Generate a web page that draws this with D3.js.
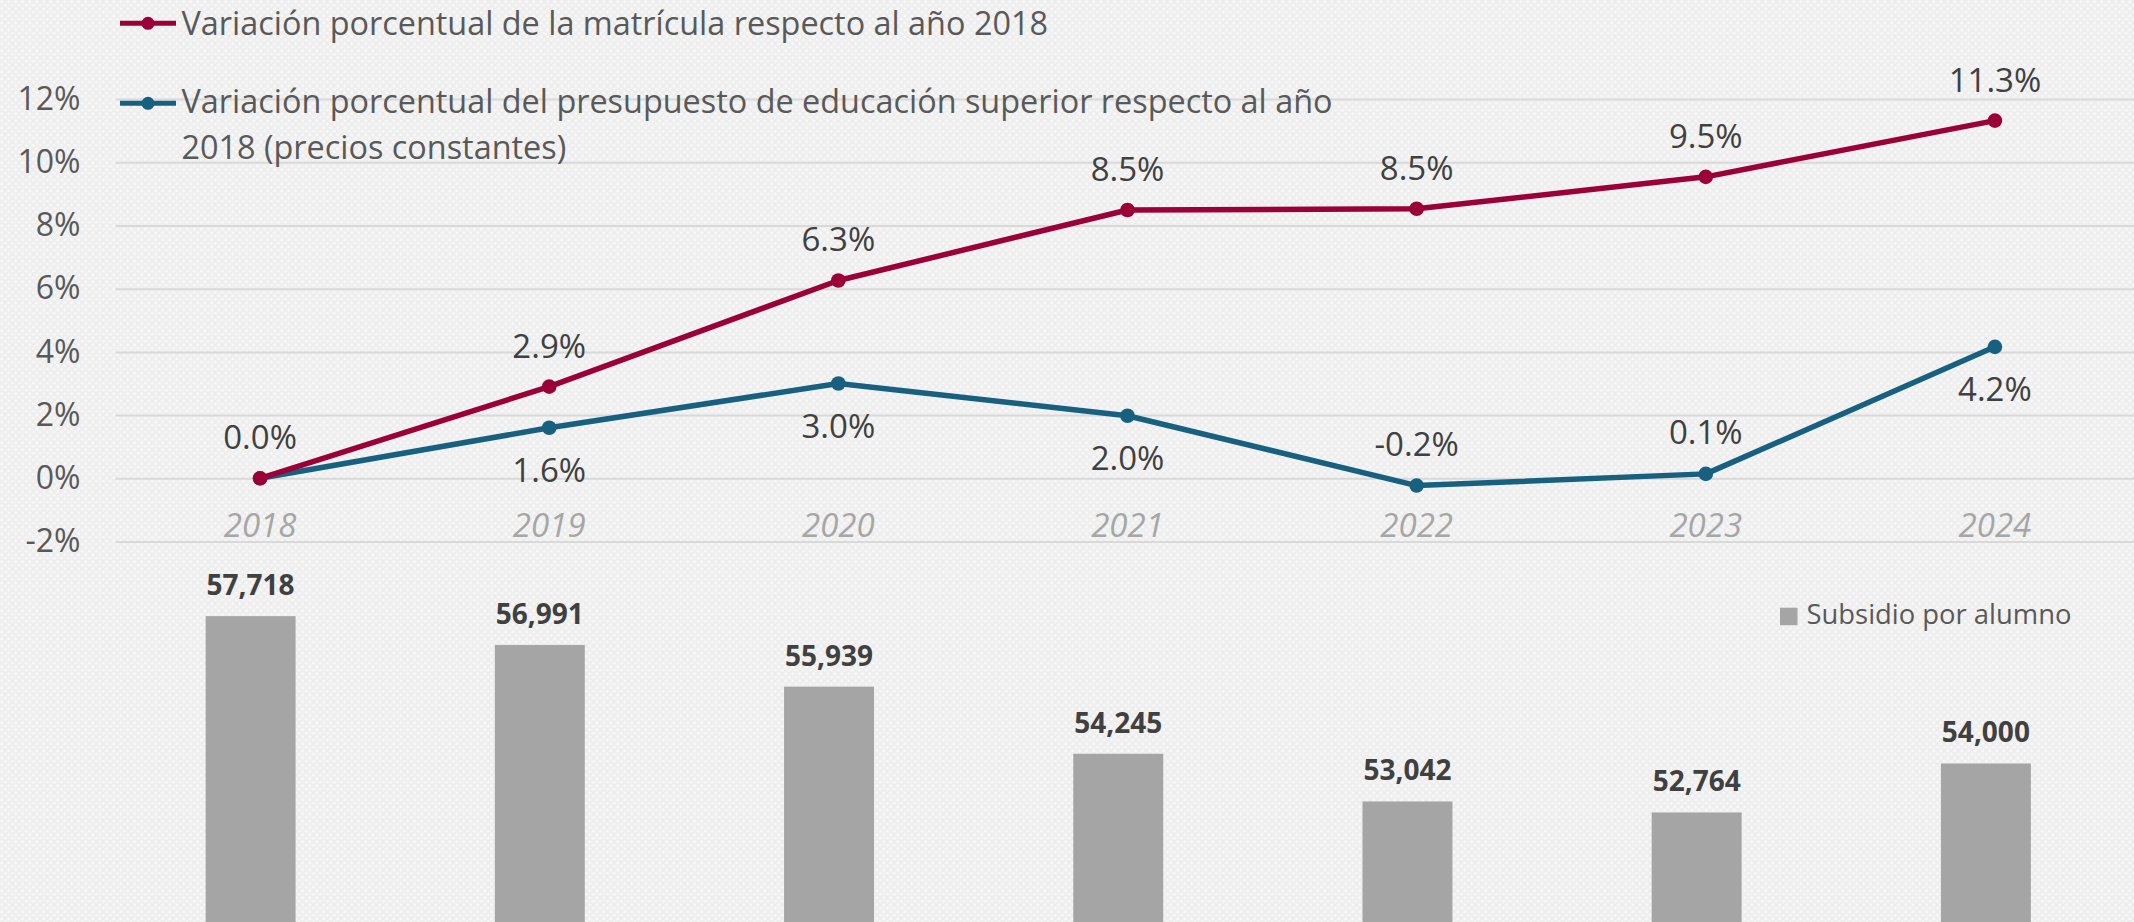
<!DOCTYPE html>
<html>
<head>
<meta charset="utf-8">
<script src="https://d3js.org/d3.v7.min.js"></script>
<style>
  html, body { margin: 0; padding: 0; background: #f2f2f2; }
  svg { display: block; font-family: "Open Sans", "Noto Sans", sans-serif; }
</style>
</head>
<body>
<div id="chart"></div>
<script>
var years = ["2018", "2019", "2020", "2021", "2022", "2023", "2024"];
// variación % de la matrícula respecto a 2018
var matricula = [0.0, 2.90, 6.26, 8.49, 8.53, 9.54, 11.32];
// variación % del presupuesto (precios constantes) respecto a 2018
var presupuesto = [0.0, 1.60, 3.00, 1.98, -0.23, 0.14, 4.16];
// subsidio por alumno
var subsidio = [57718, 56991, 55939, 54245, 53042, 52764, 54000];
var pctTicks = [-2, 0, 2, 4, 6, 8, 10, 12];

var serieMatricula = "Variación porcentual de la matrícula respecto al año 2018";
var seriePresupuesto = ["Variación porcentual del presupuesto de educación superior respecto al año", "2018 (precios constantes)"];
var serieSubsidio = "Subsidio por alumno";

var width = 2134, height = 922;
var red = "#9b0036", blue = "#17607f", barColor = "#a5a5a5";

var svg = d3.select("#chart")
  .append("svg")
    .attr("width", width)
    .attr("height", height);

// textured background
var defs = svg.append("defs");
var pat = defs.append("pattern")
    .attr("id", "tex")
    .attr("width", 7).attr("height", 7)
    .attr("patternUnits", "userSpaceOnUse");
pat.append("rect").attr("width", 7).attr("height", 7).attr("fill", "#efefef");
pat.append("circle").attr("cx", 1.8).attr("cy", 1.8).attr("r", 1.5).attr("fill", "#f8f8f8");
pat.append("circle").attr("cx", 5.3).attr("cy", 5.2).attr("r", 1.4).attr("fill", "#f7f7f7");
pat.append("circle").attr("cx", 5.2).attr("cy", 1.6).attr("r", 0.6).attr("fill", "#e6e6e6");
svg.append("rect").attr("width", width).attr("height", height).attr("fill", "url(#tex)");

/////////////////////////// bars (bottom) ///////////////////////////
var xb = d3.scaleBand()
  .domain(years)
  .range([106, 2130.5])
  .paddingInner(0.689)
  .paddingOuter(0.3445);

var yb = d3.scaleLinear()
  .domain([50000, 60000])
  .range([height, 525.7]);

var bars = svg.append("g");
bars.selectAll("rect")
  .data(subsidio)
  .enter().append("rect")
    .attr("x", function(d, i) { return xb(years[i]); })
    .attr("y", function(d) { return yb(d); })
    .attr("width", xb.bandwidth())
    .attr("height", function(d) { return height - yb(d); })
    .attr("fill", barColor);

bars.selectAll("text")
  .data(subsidio)
  .enter().append("text")
    .attr("x", function(d, i) { return xb(years[i]) + xb.bandwidth() / 2; })
    .attr("y", function(d) { return yb(d) - 21; })
    .attr("text-anchor", "middle")
    .style("font-size", "28px")
    .style("font-weight", "bold")
    .style("fill", "#404040")
    .text(function(d) { return d3.format(",")(d); });

// bar legend
svg.append("rect")
  .attr("x", 1780).attr("y", 607.7)
  .attr("width", 17.5).attr("height", 17.5)
  .attr("fill", barColor);
svg.append("text")
  .attr("x", 1806.5).attr("y", 624)
  .style("font-size", "27.4px")
  .style("fill", "#595959")
  .text(serieSubsidio);

/////////////////////////// lines (top) ///////////////////////////
var x = d3.scaleBand()
  .domain(years)
  .range([115.5, 2139.5]);
var xc = function(d) { return x(d) + x.bandwidth() / 2; };

var y = d3.scaleLinear()
  .domain([-2, 12])
  .range([541.5, 99.1]);

var yAxis = svg.append("g")
  .attr("transform", "translate(115.5,0)")
  .call(d3.axisLeft(y)
    .tickValues(pctTicks)
    .tickSize(-(2139.5 - 115.5))
    .tickPadding(35)
    .tickFormat(function(d) { return d + "%"; }));
yAxis.select(".domain").remove();
yAxis.selectAll("line").attr("stroke", "#d9d9d9").attr("stroke-width", 2);
yAxis.selectAll("text")
  .style("font-family", "'Open Sans', sans-serif")
  .style("font-size", "32px")
  .style("fill", "#595959");

var xAxis = svg.append("g")
  .attr("transform", "translate(0," + y(0) + ")")
  .call(d3.axisBottom(x).tickSize(0).tickPadding(35));
xAxis.select(".domain").remove();
xAxis.selectAll("text")
  .style("font-family", "'Open Sans', sans-serif")
  .style("font-size", "33px")
  .style("font-style", "italic")
  .style("fill", "#a6a6a6");

var line = d3.line()
  .x(function(d, i) { return xc(years[i]); })
  .y(function(d) { return y(d); });

function drawSeries(values, color) {
  svg.append("path")
    .datum(values)
    .attr("fill", "none")
    .attr("stroke", color)
    .attr("stroke-width", 5.5)
    .attr("stroke-linejoin", "round")
    .attr("d", line);
  svg.append("g").selectAll("circle")
    .data(values)
    .enter().append("circle")
      .attr("cx", function(d, i) { return xc(years[i]); })
      .attr("cy", function(d) { return y(d); })
      .attr("r", 7.3)
      .attr("fill", color);
}
drawSeries(presupuesto, blue);
drawSeries(matricula, red);

// plain hyphen for negatives, as in the original
var fmt = function(d) { return d3.format(".1f")(d).replace("\u2212", "-") + "%"; };

// matrícula labels: above the point
svg.append("g").selectAll("text")
  .data(matricula)
  .enter().append("text")
    .attr("x", function(d, i) { return xc(years[i]); })
    .attr("y", function(d) { return y(d) - 29; })
    .attr("text-anchor", "middle")
    .style("font-size", "33px")
    .style("fill", "#404040")
    .text(fmt);

// presupuesto labels: below, except near zero where they go above; first one shared with matrícula
svg.append("g").selectAll("text")
  .data(presupuesto.slice(1))
  .enter().append("text")
    .attr("x", function(d, i) { return xc(years[i + 1]); })
    .attr("y", function(d) { return d < 0.5 ? y(d) - 30 : y(d) + 54; })
    .attr("text-anchor", "middle")
    .style("font-size", "33px")
    .style("fill", "#404040")
    .text(fmt);

/////////////////////////// line legend ///////////////////////////
function legendItem(color, yy, lines, ty) {
  var g = svg.append("g");
  g.append("line")
    .attr("x1", 120).attr("x2", 176)
    .attr("y1", yy).attr("y2", yy)
    .attr("stroke", color).attr("stroke-width", 5);
  g.append("circle")
    .attr("cx", 148).attr("cy", yy).attr("r", 6.5)
    .attr("fill", color);
  var t = g.append("text")
    .attr("x", 181.5).attr("y", ty)
    .style("font-size", "32.4px")
    .style("fill", "#595959");
  t.selectAll("tspan")
    .data(lines)
    .enter().append("tspan")
      .attr("x", 181.5)
      .attr("dy", function(d, i) { return i === 0 ? 0 : 46.5; })
      .text(function(d) { return d; });
}
legendItem(red, 23.3, [serieMatricula], 35);
legendItem(blue, 103.3, seriePresupuesto, 112.5);
</script>
</body>
</html>
